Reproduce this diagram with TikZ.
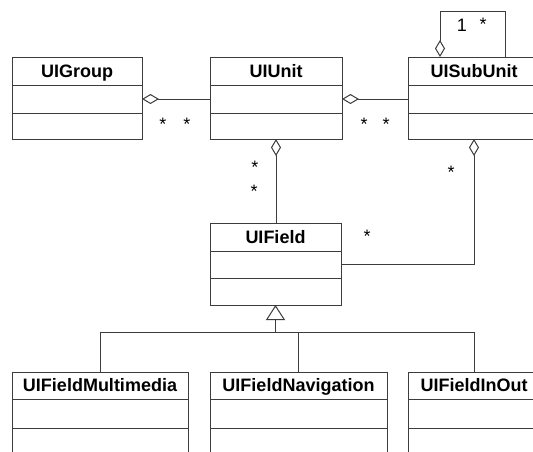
\documentclass[tikz,border=0pt]{standalone}
\usepackage{fontspec}
\setmainfont{Liberation Sans}
\usetikzlibrary{arrows.meta}
\definecolor{linec}{RGB}{60,60,60}
\newcommand\umlclass[8]{%
  \node[hd, minimum width=#4pt, minimum height=#5pt, anchor=north west] (#1) at (#2,#3) {#8};
  \node[cp, minimum width=#4pt, minimum height=#6pt, anchor=north] (#1-a) at (#1.south) {};
  \node[cp, minimum width=#4pt, minimum height=#7pt, anchor=north] (#1-o) at (#1-a.south) {};
}
\begin{document}
\begin{tikzpicture}[x=1pt,y=-1pt,
  hd/.style={draw=linec, line width=1pt, fill=white, inner sep=0pt, outer sep=0pt,
    font=\bfseries\fontsize{18}{20}\selectfont, text height=12.9pt, text depth=0pt},
  cp/.style={draw=linec, line width=1pt, inner sep=0pt, outer sep=0pt},
  conn/.style={draw=linec, line width=1pt},
  agg/.style={conn, arrows={Diamond[open,length=17pt,width=10pt]-}},
  gen/.style={conn, arrows={-Triangle[open,length=15pt,width=19pt]}},
  mult/.style={font=\fontsize{18}{20}\selectfont, inner sep=0pt, anchor=base, text=black}]
\useasboundingbox (0,0) rectangle (533,451);
\fill[white] (0,0) rectangle (533,451);
\clip (0,0) rectangle (533,451);

\umlclass{UIGroup}{12}{57}{130}{28}{28}{26}{UIGroup}
\umlclass{UIUnit}{210}{57}{132}{28}{28}{26}{UIUnit}
\umlclass{UISubUnit}{408}{57}{132}{28}{28}{26}{UISubUnit}
\umlclass{UIField}{210}{223}{131}{28}{27}{27}{UIField}
\umlclass{UIFieldMultimedia}{12}{372}{176}{27}{29}{42}{UIFieldMultimedia}
\umlclass{UIFieldNavigation}{210}{372}{177}{27}{29}{42}{UIFieldNavigation}
\umlclass{UIFieldInOut}{408}{372}{132}{27}{29}{42}{UIFieldInOut}

% aggregations
\draw[agg] (UIGroup-a.east) -- (UIUnit-a.west);
\draw[agg] (UIUnit-a.east) -- (UISubUnit-a.west);
\draw[agg] (UIUnit-o.south) -- (UIUnit-o.south |- UIField.north);
\draw[agg] (UISubUnit-o.south) |- (UIField-a.east);
\coordinate (l1) at (440,11);
\coordinate (l2) at (505,11);
\draw[agg] (UISubUnit.north -| l1) -- (l1) -- (l2) -- (UISubUnit.north -| l2);

% generalization
\coordinate (busy) at (0,332);
\coordinate (bus) at (UIField-o.south |- busy);
\draw[conn] (UIFieldMultimedia.north) |- (bus);
\draw[conn] (UIFieldNavigation.north) |- (bus);
\draw[conn] (UIFieldInOut.north) |- (bus);
\draw[gen] (bus) -- (UIField-o.south);

% multiplicities
\node[mult] (m1) at (163,130) {*};
\node[mult] (m2) at (187,130) {*};
\node[mult] (m3) at (364,130) {*};
\node[mult] (m4) at (386,130) {*};
\node[mult] (m5) at (255,173) {*};
\node[mult] (m6) at (254,197) {*};
\node[mult] (m7) at (451,178) {*};
\node[mult] (m8) at (367,242) {*};
\node[mult] (m9) at (483,30) {*};
\node[mult, anchor=center] (one) at (462,25) {1};
\end{tikzpicture}
\end{document}
